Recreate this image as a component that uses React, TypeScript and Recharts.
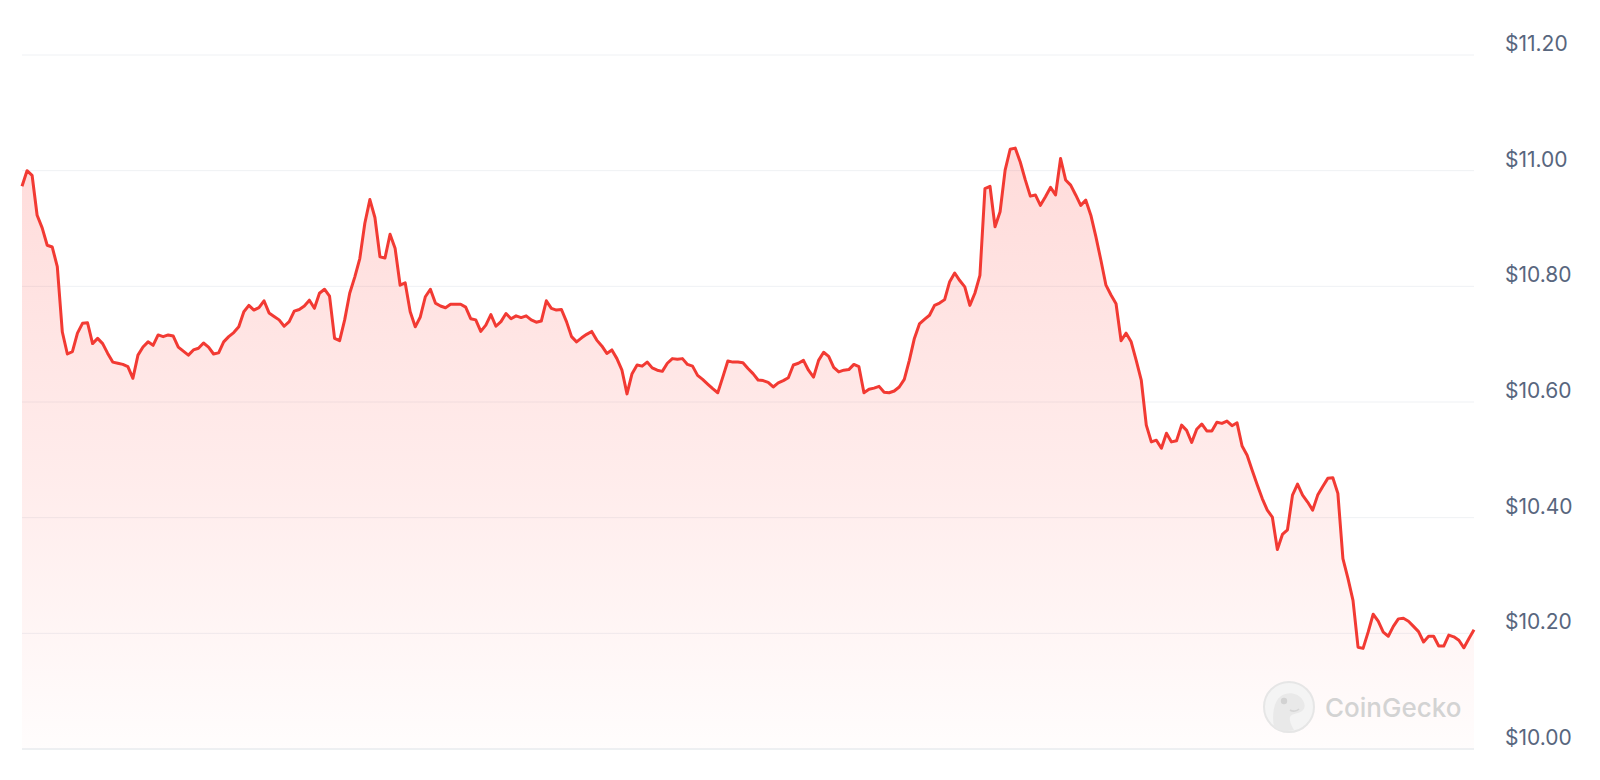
import { AreaChart, Area, XAxis, YAxis, CartesianGrid } from 'recharts';

// price samples (roughly 35 min apart)
const prices = [
  10.973, 11.0, 10.992, 10.923, 10.901, 10.871, 10.868, 10.834, 10.721, 10.683,
  10.687, 10.719, 10.736, 10.737, 10.701, 10.71, 10.701, 10.684, 10.669, 10.667,
  10.665, 10.661, 10.641, 10.681, 10.695, 10.704, 10.698, 10.716, 10.713, 10.716,
  10.714, 10.695, 10.688, 10.681, 10.69, 10.693, 10.702, 10.695, 10.683, 10.685,
  10.704, 10.713, 10.72, 10.73, 10.756, 10.767, 10.759, 10.763, 10.775, 10.754,
  10.748, 10.742, 10.731, 10.739, 10.757, 10.76, 10.766, 10.776, 10.762, 10.788,
  10.795, 10.783, 10.71, 10.706, 10.742, 10.788, 10.816, 10.848, 10.909, 10.95,
  10.919, 10.851, 10.849, 10.89, 10.866, 10.802, 10.806, 10.756, 10.73, 10.747,
  10.782, 10.795, 10.771, 10.766, 10.763, 10.769, 10.769, 10.769, 10.764, 10.744,
  10.742, 10.722, 10.733, 10.751, 10.731, 10.739, 10.753, 10.744, 10.749, 10.746,
  10.749, 10.742, 10.738, 10.74, 10.775, 10.762, 10.759, 10.76, 10.739, 10.713,
  10.704, 10.711, 10.717, 10.722, 10.707, 10.697, 10.684, 10.69, 10.675, 10.655,
  10.614, 10.649, 10.664, 10.662, 10.669, 10.659, 10.655, 10.653, 10.667, 10.675,
  10.674, 10.675, 10.665, 10.662, 10.646, 10.639, 10.631, 10.623, 10.616, 10.643,
  10.671, 10.669, 10.669, 10.668, 10.658, 10.649, 10.638, 10.637, 10.634, 10.626,
  10.633, 10.637, 10.642, 10.664, 10.667, 10.672, 10.655, 10.643, 10.672, 10.686,
  10.679, 10.66, 10.652, 10.655, 10.656, 10.665, 10.661, 10.616, 10.622, 10.624,
  10.627, 10.617, 10.616, 10.619, 10.626, 10.639, 10.672, 10.71, 10.735, 10.743,
  10.75, 10.767, 10.771, 10.777, 10.808, 10.823, 10.81, 10.799, 10.767, 10.788,
  10.819, 10.969, 10.973, 10.903, 10.929, 11.001, 11.037, 11.039, 11.015, 10.984,
  10.956, 10.958, 10.94, 10.955, 10.971, 10.958, 11.021, 10.984, 10.975, 10.958,
  10.94, 10.949, 10.923, 10.886, 10.845, 10.802, 10.785, 10.77, 10.706, 10.719,
  10.704, 10.672, 10.638, 10.56, 10.531, 10.534, 10.52, 10.546, 10.531, 10.533,
  10.56, 10.551, 10.53, 10.553, 10.562, 10.55, 10.55, 10.565, 10.563, 10.567,
  10.559, 10.564, 10.524, 10.508, 10.482, 10.457, 10.433, 10.413, 10.401, 10.345,
  10.371, 10.379, 10.439, 10.458, 10.439, 10.427, 10.413, 10.439, 10.454, 10.468,
  10.469, 10.442, 10.329, 10.295, 10.257, 10.176, 10.174, 10.202, 10.233, 10.221,
  10.202, 10.195, 10.212, 10.225, 10.226, 10.221, 10.212, 10.203, 10.185, 10.195,
  10.195, 10.178, 10.178, 10.197, 10.194, 10.188, 10.175, 10.191, 10.206,
];

const yTicks = [10, 10.2, 10.4, 10.6, 10.8, 11, 11.2];

const data = prices.map((price, i) => ({ i, price }));

function PriceTick(props: any) {
  const { x, y, payload } = props;
  return (
    <text
      x={x}
      y={y - 4}
      fill="#58667e"
      fontSize={21}
      fontFamily="Inter, 'Noto Sans', sans-serif"
      textAnchor="start"
    >
      {'$' + Number(payload.value).toFixed(2)}
    </text>
  );
}

function Watermark() {
  return (
    <div
      style={{
        position: 'absolute',
        left: 1262,
        top: 680,
        display: 'flex',
        alignItems: 'center',
        pointerEvents: 'none',
      }}
    >
      <svg width={54} height={54} viewBox="0 0 54 54">
        <circle cx={27} cy={27} r={25} fill="#f4f4f4" stroke="#e6e6e6" strokeWidth={2} />
        <path
          d="M12 47 C10 36 11 22 19 16 C26 11 36 13 40 19 C43 23 44 28 40 31 C36 34 30 33 28 37 C27 41 30 46 32 50 C25 52 17 51 12 47 Z"
          fill="#e9e9e9"
        />
        <circle cx={22} cy={21} r={3.2} fill="#d2d2d2" />
        <path d="M28 30 C31 32 35 31 37 29" stroke="#d6d6d6" strokeWidth={1.6} fill="none" />
      </svg>
      <span
        style={{
          marginLeft: 9,
          fontFamily: "Inter, 'Noto Sans', sans-serif",
          fontSize: 26,
          fontWeight: 500,
          color: '#d3d3d3',
        }}
      >
        CoinGecko
      </span>
    </div>
  );
}

export default function App() {
  return (
    <div style={{ position: 'relative', width: 1600, height: 780, background: '#fff' }}>
      <style>{'body{margin:0;}'}</style>
      <AreaChart
        width={1600}
        height={780}
        data={data}
        margin={{ top: 55, right: 0, bottom: 0, left: 22 }}
      >
        <defs>
          <linearGradient id="priceFill" x1="0" y1="0" x2="0" y2="1">
            <stop offset="0%" stopColor="#ff3a33" stopOpacity={0.3} />
            <stop offset="55%" stopColor="#ff3a33" stopOpacity={0.16} />
            <stop offset="100%" stopColor="#ff3a33" stopOpacity={0.02} />
          </linearGradient>
        </defs>
        <CartesianGrid vertical={false} stroke="#eff1f4" />
        <XAxis
          dataKey="i"
          type="number"
          domain={[0, prices.length - 1]}
          tick={false}
          tickLine={false}
          axisLine={{ stroke: '#e4e8ec' }}
          height={31}
        />
        <YAxis
          orientation="right"
          width={126}
          domain={[10, 11.2]}
          ticks={yTicks}
          interval={0}
          axisLine={false}
          tickLine={false}
          tickSize={0}
          tickMargin={31}
          tick={PriceTick}
        />
        <Area
          type="linear"
          dataKey="price"
          stroke="#f23a33"
          strokeWidth={3}
          strokeLinejoin="round"
          fill="url(#priceFill)"
          dot={false}
          activeDot={false}
          isAnimationActive={false}
        />
      </AreaChart>
      <Watermark />
    </div>
  );
}
